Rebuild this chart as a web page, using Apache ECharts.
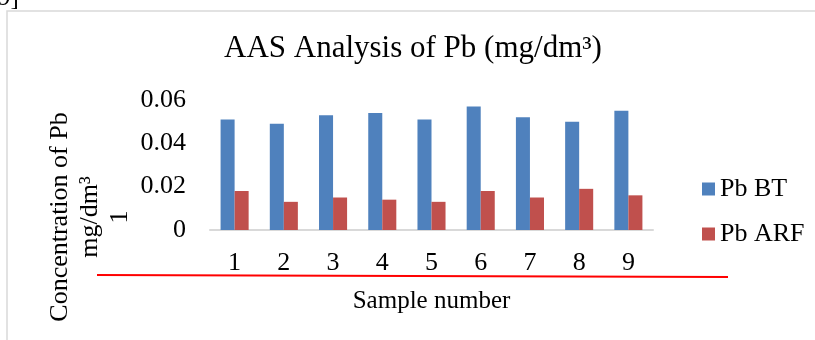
<!DOCTYPE html>
<html>
<head>
<meta charset="utf-8">
<script src="https://cdn.jsdelivr.net/npm/echarts@6/dist/echarts.min.js"></script>
<style>
  html, body { margin: 0; padding: 0; background: #fff; }
  #chart { width: 815px; height: 340px; }
</style>
</head>
<body>
<div id="chart"></div>
<script>
// sample numbers on the x axis
var categories = ['1', '2', '3', '4', '5', '6', '7', '8', '9'];
// Pb concentration, mg/dm3
var pbBT  = [0.051, 0.049, 0.053, 0.054, 0.051, 0.057, 0.052, 0.050, 0.055];
var pbARF = [0.018, 0.013, 0.015, 0.014, 0.013, 0.018, 0.015, 0.019, 0.016];
var seriesNames = ['Pb BT', 'Pb ARF'];

var serif = 'Liberation Serif, Times New Roman, serif';

var chart = echarts.init(document.getElementById('chart'));
var option = {
  animation: false,
  color: ['#4f81bd', '#c0504d'],
  title: {
    text: 'AAS Analysis of Pb (mg/dm³)',
    left: 224,
    top: 33,
    padding: 0,
    textStyle: { fontFamily: serif, fontSize: 31, fontWeight: 'normal', color: '#000' }
  },
  legend: {
    orient: 'vertical',
    left: 697,
    top: 171,
    itemWidth: 13,
    itemHeight: 13,
    itemGap: 19,
    icon: 'rect',
    data: seriesNames,
    textStyle: { fontFamily: serif, fontSize: 26, color: '#000' }
  },
  grid: { left: 210, right: 162, top: 100, bottom: 110 },
  xAxis: {
    type: 'category',
    data: categories,
    name: 'Sample number',
    nameLocation: 'middle',
    nameGap: 59,
    nameTextStyle: { fontFamily: serif, fontSize: 25, color: '#000' },
    axisLine: { lineStyle: { color: '#d9d9d9', width: 2 } },
    axisTick: { show: false },
    axisLabel: { margin: 20, fontFamily: serif, fontSize: 26, color: '#000' }
  },
  yAxis: {
    type: 'value',
    min: 0,
    max: 0.06,
    interval: 0.02,
    axisLine: { show: false },
    axisTick: { show: false },
    splitLine: { show: false },
    axisLabel: {
      margin: 24,
      fontFamily: serif,
      fontSize: 26,
      color: '#000',
      formatter: function (v) { return v === 0 ? '0' : v.toFixed(2); }
    }
  },
  series: [
    {
      name: seriesNames[0],
      type: 'bar',
      data: pbBT,
      barGap: '0%',
      barCategoryGap: '43%'
    },
    {
      name: seriesNames[1],
      type: 'bar',
      data: pbARF
    }
  ],
  graphic: [
    // frame of the figure
    {
      type: 'rect',
      shape: { x: 7, y: 11, width: 840, height: 360 },
      style: { fill: 'none', stroke: '#d9d9d9', lineWidth: 1.5 },
      silent: true
    },
    // leftover text from the line above
    {
      type: 'text',
      left: -2,
      top: -14,
      style: { text: '9]', fontFamily: serif, fontSize: 25, fill: '#000' },
      silent: true
    },
    // y axis title, three rotated lines
    {
      type: 'text',
      x: 90,
      y: 217,
      rotation: Math.PI / 2,
      style: {
        text: 'Concentration of Pb\nmg/dm³\n1',
        fontFamily: serif,
        fontSize: 26,
        lineHeight: 30,
        align: 'center',
        verticalAlign: 'middle',
        fill: '#000'
      },
      silent: true
    },
    // red underline
    {
      type: 'line',
      shape: { x1: 97, y1: 275, x2: 728, y2: 277 },
      style: { stroke: '#ff0000', lineWidth: 2 },
      silent: true
    }
  ]
};
chart.setOption(option);
</script>
</body>
</html>
